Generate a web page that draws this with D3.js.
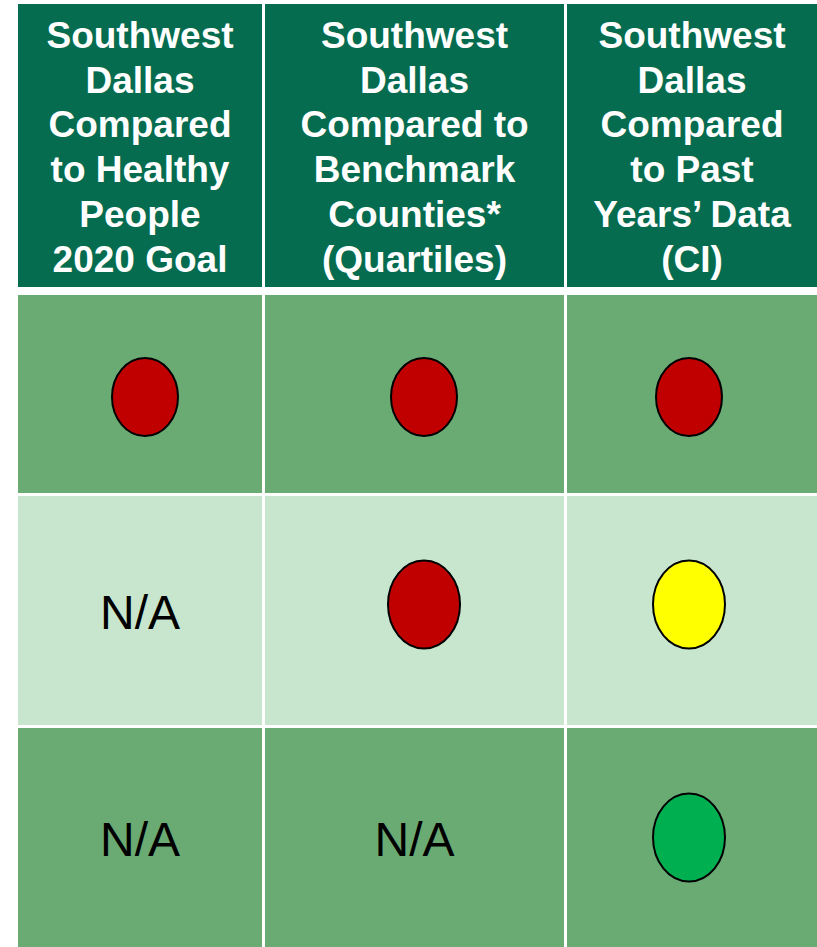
<!DOCTYPE html>
<html>
<head>
    <meta charset="utf-8">
    <title>Southwest Dallas comparison</title>
    <script src="https://d3js.org/d3.v7.min.js"></script>
    <style>
        body { margin: 0; background: #fff; }
    </style>
</head>
<body>
    <svg id="chart"></svg>
    <script>
        // column headings, one entry per line
        const headers = [
            ["Southwest", "Dallas", "Compared", "to Healthy", "People", "2020 Goal"],
            ["Southwest", "Dallas", "Compared to", "Benchmark", "Counties*", "(Quartiles)"],
            ["Southwest", "Dallas", "Compared", "to Past", "Years\u2019 Data", "(CI)"]
        ];
        const rowNames = ["row1", "row2", "row3"];
        // status per row, per column: "red", "yellow", "green" or "NA"
        const col1Status = ["red", "NA", "NA"];
        const col2Status = ["red", "red", "NA"];
        const col3Status = ["red", "yellow", "green"];

        const W = 817, H = 947;
        // cell edges (layout, not data)
        const colEdges = [[18, 262], [265, 564], [567, 817]];
        const headerBox = [4, 287];
        const rowEdges = [[295, 493], [496, 725], [728, 947]];

        const svg = d3.select('#chart')
            .attr('width', W)
            .attr('height', H);

        const fillColor = d3.scaleOrdinal()
            .domain(["red", "yellow", "green"])
            .range(["#c00000", "#ffff00", "#00b050"]);
        const rowBg = d3.scaleOrdinal()
            .domain(rowNames)
            .range(["#6aab74", "#c7e6cd", "#6aab74"]);

        // header cells
        headers.forEach((lines, c) => {
            const [x0, x1] = colEdges[c];
            svg.append('rect')
                .attr('x', x0).attr('y', headerBox[0])
                .attr('width', x1 - x0).attr('height', headerBox[1] - headerBox[0])
                .attr('fill', '#066c4f');
            const t = svg.append('text')
                .attr('text-anchor', 'middle')
                .attr('font-family', 'Liberation Sans, Arial, sans-serif')
                .attr('font-weight', 'bold')
                .attr('font-size', '37px')
                .attr('fill', '#fff');
            lines.forEach((line, i) => {
                t.append('tspan')
                    .attr('x', (x0 + x1) / 2)
                    .attr('y', 48 + i * 44.7)
                    .text(line);
            });
        });

        const cols = [col1Status, col2Status, col3Status];
        const circleX = [145, 424, 689];
        const circleDy = [3, -6, 0];

        rowNames.forEach((r, ri) => {
            const [y0, y1] = rowEdges[ri];
            const cy = (y0 + y1) / 2;
            cols.forEach((status, c) => {
                const [x0, x1] = colEdges[c];
                svg.append('rect')
                    .attr('x', x0).attr('y', y0)
                    .attr('width', x1 - x0).attr('height', y1 - y0)
                    .attr('fill', rowBg(r));
                const s = status[ri];
                if (s === "NA") {
                    svg.append('text')
                        .attr('x', (x0 + x1) / 2)
                        .attr('y', cy + 18)
                        .attr('text-anchor', 'middle')
                        .attr('font-family', 'Liberation Sans, Arial, sans-serif')
                        .attr('font-size', '48px')
                        .attr('fill', '#000')
                        .text('N/A');
                } else {
                    const small = ri === 0;
                    svg.append('ellipse')
                        .attr('cx', circleX[c])
                        .attr('cy', cy + circleDy[ri])
                        .attr('rx', small ? 33 : 36)
                        .attr('ry', small ? 39 : 44)
                        .attr('fill', fillColor(s))
                        .attr('stroke', '#000')
                        .attr('stroke-width', 2);
                }
            });
        });
    </script>
</body>
</html>
